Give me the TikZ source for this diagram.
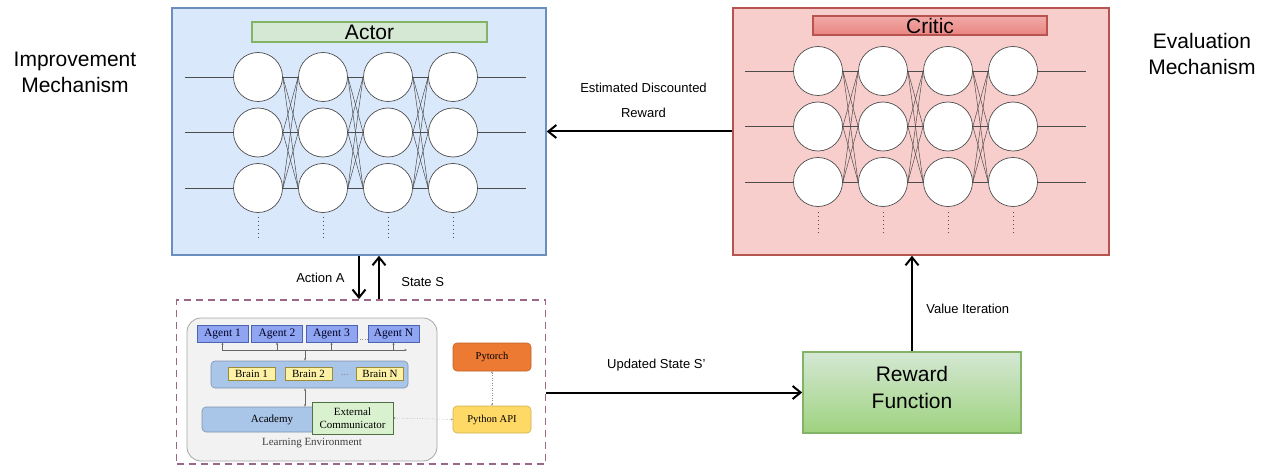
\documentclass[tikz,border=0pt]{standalone}
\usepackage{fontspec}
\setmainfont{Liberation Sans}
\newfontfamily\envfont{Liberation Serif}
\usepackage{xcolor}
\usetikzlibrary{arrows.meta,positioning}

\definecolor{actorfill}{HTML}{DAE8FC}
\definecolor{actorline}{HTML}{6C8EBF}
\definecolor{criticfill}{HTML}{F8CECC}
\definecolor{criticline}{HTML}{B85450}
\definecolor{titlegreen}{HTML}{D5E8D4}
\definecolor{titlegreenline}{HTML}{82B366}
\definecolor{titlered}{HTML}{EA8581}
\definecolor{rewardtop}{HTML}{D5E8D4}
\definecolor{rewardbot}{HTML}{9ED27F}
\definecolor{dashline}{HTML}{9A6788}
\definecolor{envfill}{HTML}{F2F2F2}
\definecolor{envline}{HTML}{A6A6A6}
\definecolor{agentfill}{HTML}{8FA5F2}
\definecolor{agentline}{HTML}{4A64B0}
\definecolor{brainpanel}{HTML}{A9C5E8}
\definecolor{brainfill}{HTML}{FDF1A6}
\definecolor{brainline}{HTML}{9A8A3A}
\definecolor{extfill}{HTML}{DAF1CF}
\definecolor{extline}{HTML}{4F6F45}
\definecolor{torchfill}{HTML}{EC7A32}
\definecolor{apifill}{HTML}{FFD966}

\tikzset{
	netbox/.style={line width=1.5pt,inner sep=0pt},
	titlebar/.style={line width=1.6pt,inner sep=0pt,font=\fontsize{21}{21}\selectfont},
	neuron/.style={circle,draw=black!70,fill=white,line width=0.7pt,minimum size=49pt,inner sep=0pt},
	synapse/.style={black!70,line width=0.5pt},
	neurondots/.style={black!70,line width=1pt,dash pattern=on 1pt off 3pt},
	sidelabel/.style={align=center,font=\fontsize{21}{26}\selectfont},
	flowlabel/.style={font=\fontsize{13}{15}\selectfont},
	flow/.style={line width=2pt,-{Straight Barb[length=8pt,width=13pt]}},
	envtext/.style={font=\envfont\fontsize{10.5}{12}\selectfont},
	agent/.style={envtext,font=\envfont\fontsize{11.5}{12}\selectfont,text=black!85!blue,draw=agentline,fill=agentfill,line width=0.8pt,minimum width=51pt,minimum height=17pt,inner sep=0pt},
	brain/.style={envtext,font=\envfont\fontsize{11}{12}\selectfont,draw=brainline,fill=brainfill,line width=0.8pt,minimum width=47pt,minimum height=13pt,inner sep=0pt},
	panel/.style={envtext,draw=brainpanel!75!black,fill=brainpanel,line width=0.6pt,rounded corners=4pt,inner sep=0pt},
	tinylink/.style={black!60,line width=0.5pt},
	dotlink/.style={black!45,line width=0.5pt,dotted,{Stealth[length=2pt,width=2pt]}-{Stealth[length=2pt,width=2pt]}}
}

\begin{document}
\begin{tikzpicture}[x=1pt,y=-1pt]
	\useasboundingbox (0,0) rectangle (1269,468);

	\node[netbox,draw=actorline,fill=actorfill,minimum width=374pt,minimum height=247pt] (actor) at (359,131.5) {};
	\node[titlebar,draw=titlegreenline,fill=titlegreen,minimum width=235pt,minimum height=20pt] (actortitle) at (369.5,32) {Actor};
	\node[netbox,draw=criticline,fill=criticfill,minimum width=376pt,minimum height=247pt] (critic) at (921,131.5) {};
	\node[titlebar,draw=criticline,top color=titlered!70,bottom color=titlered,minimum width=234pt,minimum height=19pt] (critictitle) at (930,25.5) {Critic};

	\foreach \net/\xo/\yo/\dy in {a/258/77/4.5,c/818/71/5.5}{
		\foreach \i in {1,...,4}
			\foreach \j in {1,2,3}
				\node[neuron] (\net\i\j) at ({\xo+65*(\i-1)},{\yo+55.5*(\j-1)}) {};
		\foreach \j in {1,2,3}{
			\draw[synapse] (\net1\j.west) -- ++(-48.5,0);
			\draw[synapse] (\net4\j.east) -- ++(48.5,0);
		}
		\foreach \i/\k in {1/2,2/3,3/4}
			\foreach \j in {1,2,3}
				\foreach \m in {1,2,3}
					\draw[synapse] (\net\i\j.east) -- (\net\k\m.west);
		\foreach \i in {1,...,4}
			\draw[neurondots] (\net\i3.south) ++(0,\dy) -- ++(0,21);
	}

	\node[sidelabel] (improve) at (75,72) {Improvement\\Mechanism};
	\node[sidelabel] (evaluate) at (1202,54) {Evaluation\\Mechanism};

	\node[draw=dashline,line width=1.8pt,dash pattern=on 7pt off 5pt,minimum width=369pt,minimum height=164pt,inner sep=0pt] (mlagents) at (361,382) {};
	\node[draw=envline,fill=envfill,line width=0.8pt,rounded corners=14pt,minimum width=250pt,minimum height=143pt,inner sep=0pt] (learnenv) at (312,389.5) {};

	\foreach \n/\x in {1/222.5,2/277,3/331.5,N/393.5}
		\node[agent] (agent\n) at (\x,333.5) {Agent \n};
	\draw[black!45,line width=0.5pt,dotted] ([yshift=-6pt]agent3.east) -- ([yshift=-6pt]agentN.west);
	\coordinate (busleft) at (222,350);
	\coordinate (busright) at (407,350);
	\coordinate (hub) at (305,350);
	\draw[tinylink,-{Stealth[length=2.5pt,width=2pt]}] (busleft) -- (busright);
	\foreach \n in {1,2,3,N}
		\draw[tinylink,-{Stealth[length=2.5pt,width=2pt]}] (agent\n.south |- busleft) -- (agent\n.south);

	\node[panel,minimum width=197pt,minimum height=27pt] (brains) at (309.5,374.5) {};
	\draw[tinylink,-{Stealth[length=2.5pt,width=2pt]}] (hub) -- (hub |- brains.north);
	\foreach \n/\x in {1/251.5,2/308.5,N/380}
		\node[brain] (brain\n) at (\x,374) {Brain \n};
	\node[envtext,text=black!45] (braindots) at (345,375) {...};

	\node[panel,font=\envfont\fontsize{11}{12}\selectfont,minimum width=140pt,minimum height=25pt] (academy) at (272,419.5) {Academy};
	\draw[tinylink,{Stealth[length=2.5pt,width=2pt]}-{Stealth[length=2.5pt,width=2pt]}] (hub |- brains.south) -- (hub |- academy.north);
	\node[envtext,font=\envfont\fontsize{11}{13}\selectfont,draw=extline,fill=extfill,line width=0.8pt,align=center,minimum width=81pt,minimum height=32pt,inner sep=0pt] (extcom) at (352.5,418) {External\\Communicator};
	\node[envtext,font=\envfont\fontsize{11}{12}\selectfont,text=black!75] (envlabel) at (312,443) {Learning Environment};

	\node[panel,draw=torchfill!80!black,fill=torchfill,minimum width=78pt,minimum height=28pt] (pytorch) at (492,357) {Pytorch};
	\node[panel,draw=apifill!80!black,fill=apifill,minimum width=78pt,minimum height=27pt] (pyapi) at (492,419.5) {Python API};
	\draw[dotlink] (pytorch.south) -- (pyapi.north);
	\draw[dotlink] (extcom.east) -- (pyapi.west);

	\node[draw=titlegreenline,line width=1.6pt,top color=rewardtop,bottom color=rewardbot,align=center,font=\fontsize{21}{27}\selectfont,text depth=11pt,minimum width=218pt,minimum height=81pt,inner sep=0pt] (reward) at (912,392.5) {Reward\\Function};

	\draw[flow] (critic.west) -- (actor.east) node[flowlabel,midway,above=10pt,xshift=4pt,align=center,font=\fontsize{13}{25}\selectfont] {Estimated Discounted\\Reward};
	\draw[flow] (actor.south) -- (actor.south |- mlagents.north) node[flowlabel,midway,left=10pt] {Action A};
	\coordinate (statein) at ([xshift=20pt]actor.south);
	\draw[flow] (statein |- mlagents.north) -- (statein) node[flowlabel,pos=0.4,right=18pt] {State S};
	\draw[flow] (mlagents.east |- reward.west) -- (reward.west) node[flowlabel,midway,above=17pt,xshift=-18pt] {Updated State S'};
	\draw[flow] (reward.north) -- (reward.north |- critic.south) node[flowlabel,pos=0.44,right=10pt] {Value Iteration};
\end{tikzpicture}
\end{document}
